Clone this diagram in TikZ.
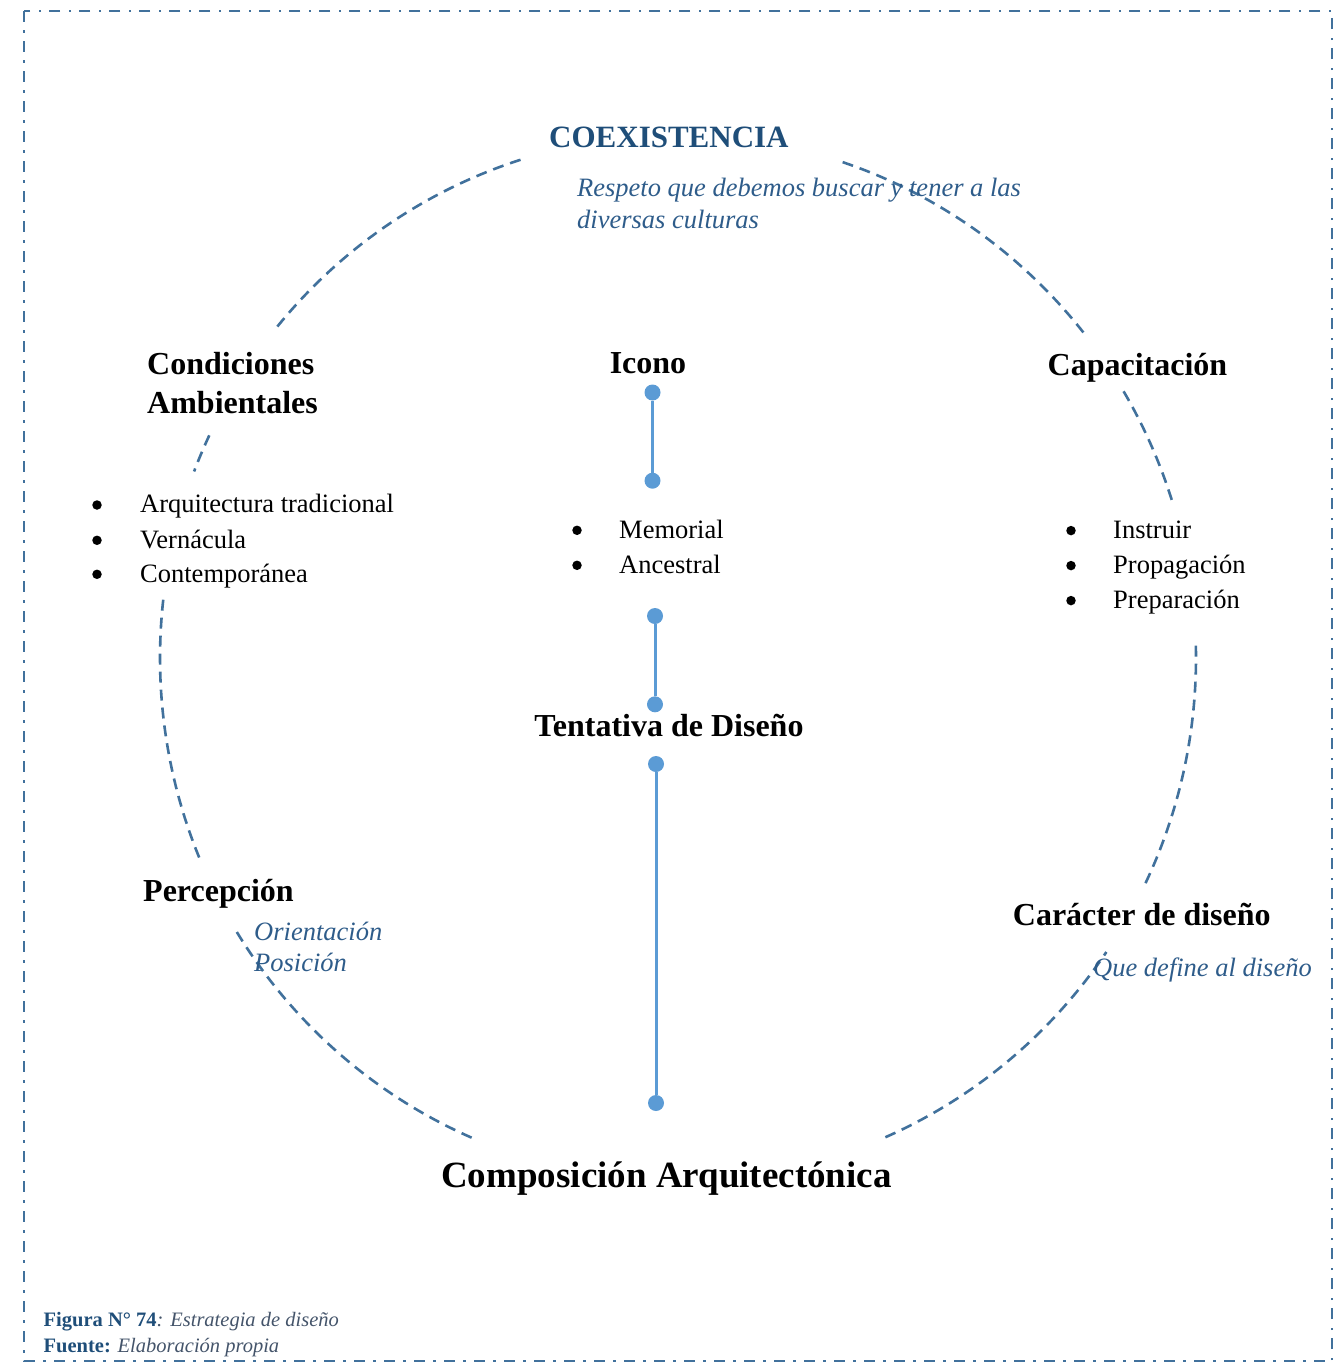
\documentclass[tikz,border=0pt]{standalone}
\usepackage{fontspec}
\setmainfont{Liberation Serif}
\usetikzlibrary{calc}
\definecolor{arcblue}{HTML}{41719C}
\definecolor{titleblue}{HTML}{1F4E79}
\definecolor{itblue}{HTML}{2E5C8A}
\definecolor{linkblue}{HTML}{5B9BD5}
\definecolor{capgray}{HTML}{44546A}
\begin{document}
\begin{tikzpicture}[x=1pt,y=-1pt,
  arcline/.style={draw=arcblue, line width=2.6pt, dash pattern=on 11pt off 7pt},
  frameline/.style={draw=arcblue, line width=2.7pt, dash pattern=on 11pt off 8pt on 2.5pt off 8.5pt},
  head/.style={font=\fontsize{32}{38}\selectfont\bfseries, inner sep=0pt, anchor=base west},
  item/.style={font=\fontsize{26.5}{32}\selectfont, inner sep=0pt, anchor=base west},
  bul/.style={circle, fill=black, minimum size=9.5pt, inner sep=0pt},
  note/.style={font=\fontsize{26.5}{32}\selectfont\itshape, text=itblue, inner sep=0pt, anchor=base west},
  dot/.style={circle, fill=linkblue, minimum size=16pt, inner sep=0pt},
  link/.style={draw=linkblue, line width=3pt},
  captext/.style={font=\fontsize{20.5}{25}\selectfont, inner sep=0pt, anchor=base west}
]
\useasboundingbox (0,0) rectangle (1342,1363);
\draw[frameline] (24,11) rectangle (1332,1361);

% dashed ring
\coordinate (c) at (678,658);
\newcommand\ringseg[2]{\draw[arcline] ($(c)+({518*cos(#1)},{-523*sin(#1)})$) arc[start angle=#1, end angle=#2, x radius=518pt, y radius=523pt];}
\ringseg{107.7}{141.4}
\ringseg{154.8}{159.1}
\ringseg{173.6}{202.9}
\ringseg{211.6}{247.2}
\ringseg{293.6}{325.8}
\ringseg{334.5}{361.9}
\ringseg{17.6}{31.1}
\ringseg{38.5}{72.2}

% top
\node[font=\fontsize{31}{38}\selectfont\bfseries, text=titleblue, inner sep=0pt, anchor=base west] (coex) at (549,147.5) {COEXISTENCIA};
\node[note] (resp1) at (577,196.7) {Respeto que debemos buscar y tener a las};
\node[note] (resp2) at (577,228.3) {diversas culturas};

% left
\node[head] (cond1) at (147,374) {Condiciones};
\node[head] (cond2) at (147,413) {Ambientales};
\node[bul] (lb1) at (97,505) {};
\node[bul] (lb2) at (97,540.3) {};
\node[bul] (lb3) at (97,574.3) {};
\node[item] (li1) at (140,512.7) {Arquitectura tradicional};
\node[item] (li2) at (140,548) {Vernácula};
\node[item] (li3) at (140,582) {Contemporánea};

% center
\node[head, anchor=base] (icono) at (648,373.5) {Icono};
\node[bul] (mb1) at (577,530.3) {};
\node[bul] (mb2) at (577,565.3) {};
\node[item] (mi1) at (619,538) {Memorial};
\node[item] (mi2) at (619,573) {Ancestral};
\node[head, anchor=base] (tent) at (669,736) {Tentativa de Diseño};
\node[dot] (d1) at (652.5,392.5) {};
\node[dot] (d2) at (652.5,480.7) {};
\node[dot] (d3) at (655,616) {};
\node[dot] (d4) at (655,704.3) {};
\node[dot] (d5) at (656,764) {};
\node[dot] (d6) at (656,1103) {};
\draw[link] (d1) -- (d2);
\draw[link] (d3) -- (d4);
\draw[link] (d5) -- (d6);

% right
\node[head] (capa) at (1047.5,375.5) {Capacitación};
\node[bul] (rb1) at (1071,530.6) {};
\node[bul] (rb2) at (1071,565.6) {};
\node[bul] (rb3) at (1071,600.6) {};
\node[item] (ri1) at (1113,538.3) {Instruir};
\node[item] (ri2) at (1113,573.3) {Propagación};
\node[item] (ri3) at (1113,608.3) {Preparación};

% lower
\node[head] (perc) at (143,901.5) {Percepción};
\node[note] (ori) at (254,940) {Orientación};
\node[note] (pos) at (254,971.5) {Posición};
\node[head] (carac) at (1012.7,925) {Carácter de diseño};
\node[note] (qued) at (1093,976.7) {Que define al diseño};
\node[font=\fontsize{37}{44}\selectfont\bfseries, inner sep=0pt, anchor=base] (comp) at (666.5,1187) {Composición Arquitectónica};

% caption
\node[captext] (fig) at (43.5,1326.5) {\textcolor{titleblue}{\bfseries Figura N° 74}\textcolor{capgray}{\itshape : Estrategia de diseño}};
\node[captext] (fte) at (43.5,1352.5) {\textcolor{titleblue}{\bfseries Fuente:} \textcolor{capgray}{\itshape Elaboración propia}};
\end{tikzpicture}
\end{document}
